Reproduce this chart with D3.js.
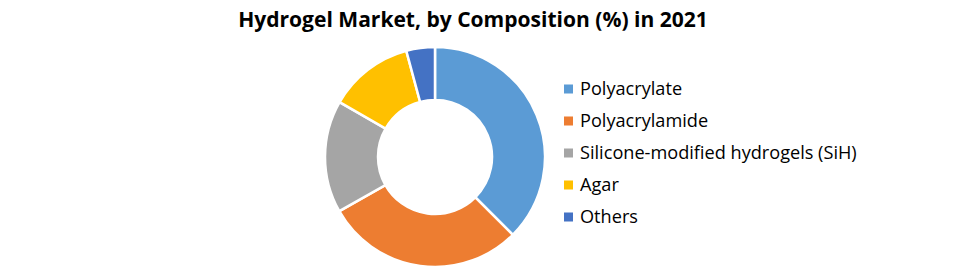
<!DOCTYPE html>
<html><head><meta charset="utf-8">
<script src="https://cdn.jsdelivr.net/npm/d3@7"></script>
<style>body{margin:0;background:#fff}</style>
</head><body>
<svg id="c" width="975" height="271"></svg>
<script>
const categories = ["Polyacrylate","Polyacrylamide","Silicone-modified hydrogels (SiH)","Agar","Others"];
const values = [37.5, 29.3, 16.5, 12.5, 4.2];
const colors = ["#5B9BD5","#ED7D31","#A5A5A5","#FFC000","#4472C4"];
const title = "Hydrogel Market, by Composition (%) in 2021";

const svg = d3.select("#c");
const W = 975, H = 271;
svg.append("rect").attr("width",W).attr("height",H).attr("fill","#fff");

const font = "'Open Sans', 'Liberation Sans', sans-serif";
function fitText(t, target){
  const w = t.node().getComputedTextLength();
  const fs = parseFloat(t.attr("font-size"));
  t.attr("font-size", fs*target/w);
}

const tt = svg.append("text").attr("x",473).attr("y",27).attr("text-anchor","middle")
  .attr("font-family",font).attr("font-weight","bold").attr("font-size",18).attr("fill","#000").text(title);
fitText(tt, 470);

const cx = 435, cy = 157, R = 110, r = 57;
const pie = d3.pie().sort(null).value(d=>d)(values);
const arc = d3.arc().innerRadius(r).outerRadius(R);
const g = svg.append("g").attr("transform",`translate(${cx},${cy})`);
g.selectAll("path").data(pie).join("path")
  .attr("d",arc).attr("fill",(d,i)=>colors[i]).attr("stroke","#fff").attr("stroke-width",2.5);

const y = d3.scalePoint().domain(categories).range([89,217]);
const lg = svg.append("g");
const items = lg.selectAll("g").data(categories).join("g").attr("transform",d=>`translate(0,${y(d)})`);
items.append("rect").attr("x",564).attr("y",-4.5).attr("width",9).attr("height",9).attr("fill",(d,i)=>colors[i]);
const labels = items.append("text").attr("x",580).attr("y",6).attr("font-family",font).attr("font-size",16).attr("fill","#000").text(d=>d);
const longest = labels.filter((d,i)=>i===2);
const w0 = longest.node().getComputedTextLength();
labels.attr("font-size", 16*277/w0);
</script>
</body></html>
